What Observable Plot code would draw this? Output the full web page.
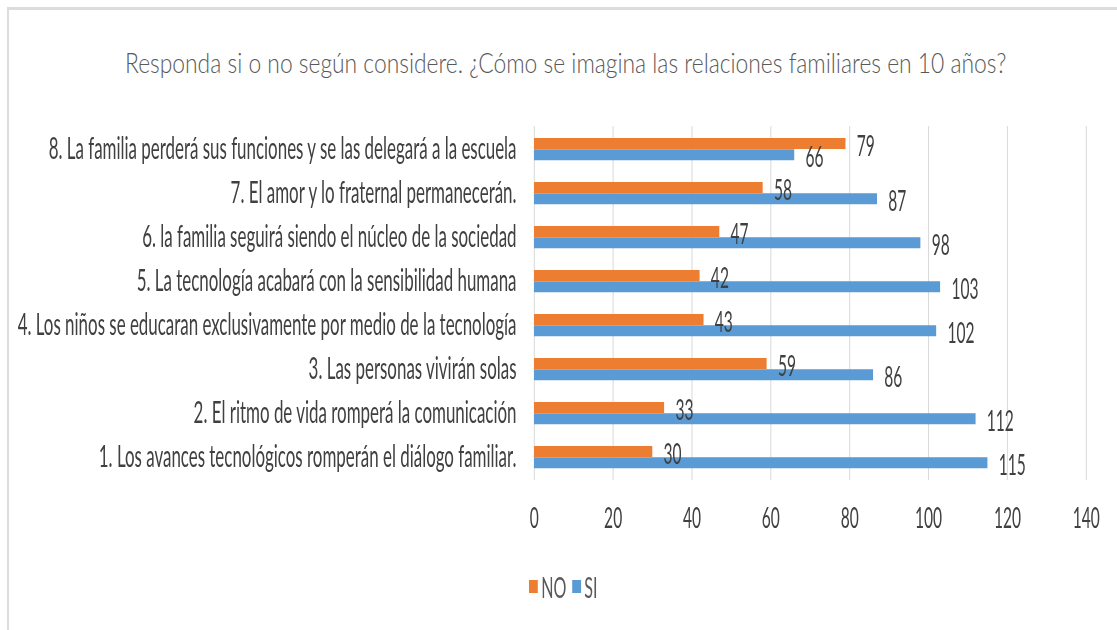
<!DOCTYPE html>
<html>
<head>
<meta charset="utf-8">
<script src="https://cdn.jsdelivr.net/npm/d3@7"></script>
<script src="https://cdn.jsdelivr.net/npm/@observablehq/plot@0.6"></script>
<style>
  html, body { margin: 0; padding: 0; background: #fff; }
  body { width: 1117px; height: 630px; overflow: hidden; position: relative; font-family: Lato, "Open Sans", sans-serif; }
  #frame { position: absolute; left: 7px; top: 7px; width: 1200px; height: 700px; border-top: 3px solid #dcdcdc; border-left: 2px solid #dcdcdc; box-sizing: border-box; }
  #title { position: absolute; left: 0; width: 1131px; top: 46px; text-align: center; line-height: 1.2; }
  #title span { display: inline-block; font-size: 28px; font-weight: 300; color: #595959; transform: scaleX(0.815); transform-origin: 50% 50%; white-space: nowrap; }
  #chart { position: absolute; left: 0; top: 100px; transform-origin: 0 0; }
  #legend { position: absolute; display: flex; align-items: center; color: #595959; font-size: 29px; line-height: 1; }
  #legend .item { display: flex; align-items: center; margin-right: 10px; }
  #legend .sw { display: inline-block; height: 13px; margin-right: 6px; }
</style>
</head>
<body>
<div id="frame"></div>
<div id="title"><span></span></div>
<div id="chart"></div>
<script>
// ---- data ----
const titleText = "Responda si o no según considere. ¿Cómo se imagina las relaciones familiares en 10 años?";
const categories = [
  "1. Los avances tecnológicos romperán el diálogo familiar.",
  "2. El ritmo de vida romperá la comunicación",
  "3. Las personas vivirán solas",
  "4. Los niños se educaran exclusivamente por medio de la tecnología",
  "5. La tecnología acabará con la sensibilidad humana",
  "6. la familia seguirá siendo el núcleo de la sociedad",
  "7. El amor y lo fraternal permanecerán.",
  "8. La familia perderá sus funciones y se las delegará a la escuela"
];
const noValues = [30, 33, 59, 43, 42, 47, 58, 79];
const siValues = [115, 112, 86, 102, 103, 98, 87, 66];
const seriesNames = ["NO", "SI"];
const seriesColors = ["#ED7D31", "#5B9BD5"];
const xTicks = [0, 20, 40, 60, 80, 100, 120, 140];

// ---- layout ----
const S = 0.555;              // horizontal condensation of the chart text
const W = 1117 / S;
const rows = categories.map((c, i) => ({cat: c, NO: noValues[i], SI: siValues[i]}));

document.querySelector("#title span").textContent = titleText;

const chart = Plot.plot({
  width: W,
  height: 450,
  marginTop: 26,
  marginBottom: 70,
  marginLeft: 534 / S,
  marginRight: W - 1086 / S,
  style: {fontFamily: "Lato, 'Open Sans', sans-serif", fontSize: "28px", color: "#404040", background: "transparent"},
  x: {domain: [0, 140], ticks: xTicks, tickSize: 0, tickPadding: 28, label: null, tickFormat: d => String(d)},
  y: {domain: [...categories].reverse(), padding: 0, tickSize: 0, tickPadding: 32, label: null},
  marks: [
    Plot.ruleX(xTicks, {stroke: "#d9d9d9", strokeWidth: 1.8}),
    Plot.barX(rows, {x: "NO", y: "cat", fill: seriesColors[0], insetTop: 11, insetBottom: 22}),
    Plot.barX(rows, {x: "SI", y: "cat", fill: seriesColors[1], insetTop: 22.25, insetBottom: 10.75}),
    Plot.text(rows, {x: "NO", y: "cat", text: d => String(d.NO), dx: 11 / S, dy: -2.5, textAnchor: "start", fill: "#404040", fontSize: 28}),
    Plot.text(rows, {x: "SI", y: "cat", text: d => String(d.SI), dx: 11 / S, dy: 8.5, textAnchor: "start", fill: "#404040", fontSize: 28})
  ]
});

// category labels are a little larger than the numbers
d3.select(chart).selectAll('g[aria-label^="y-axis"]').attr("font-size", 30.5);

const holder = document.getElementById("chart");
holder.style.width = W + "px";
holder.style.transform = `scaleX(${S})`;
holder.appendChild(chart);

// legend built from the series arrays
const legend = document.createElement("div");
legend.id = "legend";
legend.style.left = (529 / S) + "px";
legend.style.top = (472) + "px";
seriesNames.forEach((name, i) => {
  const item = document.createElement("div");
  item.className = "item";
  const sw = document.createElement("span");
  sw.className = "sw";
  sw.style.width = (9 / S) + "px";
  sw.style.background = seriesColors[i];
  const lab = document.createElement("span");
  lab.textContent = name;
  item.appendChild(sw);
  item.appendChild(lab);
  legend.appendChild(item);
});
holder.appendChild(legend);
</script>
</body>
</html>
